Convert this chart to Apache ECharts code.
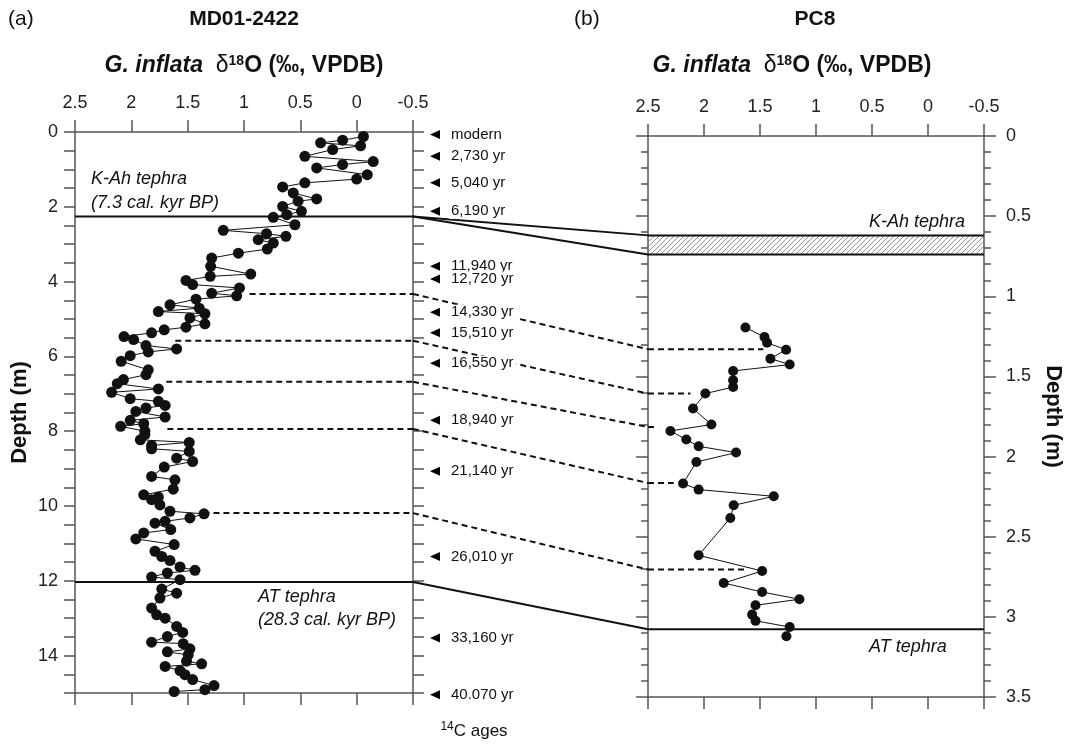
<!DOCTYPE html>
<html><head><meta charset="utf-8">
<script src="https://cdn.jsdelivr.net/npm/echarts@6/dist/echarts.min.js"></script>
<style>html,body{margin:0;padding:0;background:#fff}#c{width:1073px;height:745px}</style>
</head><body><div id="c"></div>
<script>
// ---- MD01-2422 (panel a) ----
const leftDepth = [0.12,0.22,0.29,0.37,0.47,0.65,0.79,0.87,0.96,1.14,1.26,1.36,1.47,1.63,1.79,1.85,1.99,2.12,2.21,2.28,2.48,2.63,2.72,2.79,2.88,2.97,3.13,3.24,3.37,3.59,3.80,3.86,3.97,4.08,4.17,4.31,4.38,4.47,4.62,4.71,4.80,4.86,4.97,5.13,5.22,5.29,5.37,5.47,5.55,5.71,5.80,5.88,5.98,6.13,6.36,6.49,6.62,6.73,6.87,6.96,7.13,7.20,7.31,7.38,7.47,7.62,7.71,7.80,7.87,8.00,8.09,8.23,8.30,8.38,8.47,8.54,8.72,8.81,8.96,9.21,9.30,9.55,9.70,9.76,9.83,9.97,10.14,10.21,10.32,10.41,10.46,10.63,10.72,10.88,11.03,11.21,11.35,11.46,11.63,11.72,11.79,11.90,11.97,12.22,12.33,12.46,12.73,12.91,13.00,13.22,13.38,13.49,13.64,13.68,13.82,13.90,13.98,14.15,14.22,14.29,14.40,14.51,14.64,14.80,14.91,14.96];
const leftD18O = [-0.06,0.125,0.32,-0.035,0.213,0.46,-0.147,0.125,0.355,-0.094,0.0,0.46,0.657,0.563,0.355,0.52,0.657,0.49,0.62,0.74,0.548,1.184,0.80,0.628,0.874,0.74,0.793,1.05,1.287,1.296,0.94,1.30,1.515,1.456,1.04,1.287,1.065,1.426,1.657,1.397,1.76,1.347,1.48,1.347,1.515,1.708,1.82,2.065,1.98,1.87,1.598,1.85,2.01,2.09,1.85,1.87,2.07,2.125,1.76,2.175,2.01,1.76,1.70,1.87,1.96,1.70,2.01,1.89,2.095,1.88,1.88,1.92,1.486,1.82,1.82,1.486,1.598,1.456,1.708,1.82,1.613,1.628,1.89,1.76,1.82,1.746,1.657,1.355,1.48,1.70,1.79,1.65,1.89,1.96,1.62,1.79,1.73,1.657,1.568,1.435,1.68,1.82,1.568,1.73,1.598,1.746,1.82,1.775,1.70,1.598,1.544,1.68,1.82,1.54,1.48,1.68,1.495,1.51,1.376,1.70,1.568,1.524,1.456,1.266,1.347,1.62];

// ---- PC8 (panel b) ----
const rightDepth = [1.195,1.254,1.29,1.333,1.389,1.426,1.466,1.524,1.566,1.607,1.70,1.80,1.84,1.894,1.936,1.975,2.034,2.168,2.206,2.248,2.304,2.383,2.616,2.714,2.789,2.845,2.89,2.928,2.986,3.025,3.063,3.121];
const rightD18O = [1.63,1.46,1.437,1.267,1.407,1.235,1.74,1.74,1.74,1.988,2.098,1.934,2.30,2.158,2.048,1.714,2.068,2.187,2.048,1.377,1.735,1.765,2.048,1.481,1.824,1.481,1.148,1.54,1.57,1.54,1.235,1.264];

// ---- 14C ages ----
const ageLabels = ['modern','2,730 yr','5,040 yr','6,190 yr','11,940 yr','12,720 yr','14,330 yr','15,510 yr','16,550 yr','18,940 yr','21,140 yr','26,010 yr','33,160 yr','40.070 yr'];
const ageDepth = [0.07,0.65,1.36,2.12,3.59,3.93,4.82,5.37,6.18,7.71,9.07,11.35,13.53,15.05];

// ---- tephra & tie points ----
const leftKAh = 2.26, leftAT = 12.03;
const rightKAhBand = [0.62, 0.74], rightAT = 3.077;
const leftTieDepth = [4.33, 5.58, 6.68, 7.94, 10.19];
const leftTieStart = [0.95, 1.61, 1.69, 1.68, 1.36];
const rightTieDepth = [1.33, 1.607, 1.815, 2.165, 2.705];
const rightTieEnd = [1.47, 2.12, 2.41, 2.27, 1.615];

const xTicks = [-0.5, 2.5];
const FONT = '"Liberation Sans", Arial, Helvetica, sans-serif';
const AX = '#555';

function hatch(){
  const c = document.createElement('canvas'); c.width = 5; c.height = 5;
  const g = c.getContext('2d'); g.strokeStyle = '#666'; g.lineWidth = 0.7;
  g.beginPath(); g.moveTo(0,5); g.lineTo(5,0); g.moveTo(-1,1); g.lineTo(1,-1); g.moveTo(4,6); g.lineTo(6,4); g.stroke();
  return c;
}
const hatchCanvas = hatch();

function xAx(grid, pos, labels){
  return {type:'value', gridIndex:grid, position:pos, min:xTicks[0], max:xTicks[1], interval:0.5, inverse:true,
    axisLine:{show:true, onZero:false, lineStyle:{color:AX, width:1.5}},
    axisTick:{show:true, inside:false, length:12, lineStyle:{color:AX, width:1.5}},
    axisLabel:{show:labels, margin:20, fontSize:18, color:'#222', fontFamily:FONT},
    splitLine:{show:false}};
}
function yAxLeftPanel(pos, labels){
  return {type:'value', gridIndex:0, position:pos, min:0, max:15, interval:0.5, inverse:true,
    axisLine:{show:true, onZero:false, lineStyle:{color:AX, width:1.5}},
    axisTick:{show:true, inside:false, length:11, lineStyle:{color:AX, width:1.5}},
    axisLabel:{show:labels, margin:17, fontSize:18, color:'#222', fontFamily:FONT,
      formatter: v => (Math.abs(v % 2) < 1e-9 ? String(v) : '')},
    splitLine:{show:false},
    name: labels ? 'Depth (m)' : '', nameLocation:'middle', nameGap:44, nameRotate:90,
    nameTextStyle:{fontSize:22, fontWeight:'bold', fontFamily:FONT, color:'#111'}};
}
function yAxRightPanel(pos, labels){
  return {type:'value', gridIndex:1, position:pos, min:0, max:3.5, interval:0.5, inverse:true,
    axisLine:{show:true, onZero:false, lineStyle:{color:AX, width:1.5}},
    axisTick:{show:true, inside:false, length:12, lineStyle:{color:AX, width:1.5}},
    minorTick:{show:true, splitNumber:5, length:7, lineStyle:{color:AX, width:1.5}},
    axisLabel:{show:labels, margin:22, fontSize:18, color:'#222', fontFamily:FONT},
    splitLine:{show:false},
    name: labels ? 'Depth (m)' : '', nameLocation:'middle', nameGap:58, nameRotate:-90,
    nameTextStyle:{fontSize:22, fontWeight:'bold', fontFamily:FONT, color:'#111'}};
}

const series = [];
series.push({type:'line', xAxisIndex:0, yAxisIndex:0, z:4,
  data: leftDepth.map((d,i)=>[leftD18O[i], d]),
  symbol:'circle', symbolSize:11, itemStyle:{color:'#111'}, lineStyle:{color:'#111', width:1}});
series.push({type:'line', xAxisIndex:2, yAxisIndex:2, z:4,
  data: rightDepth.map((d,i)=>[rightD18O[i], d]),
  symbol:'circle', symbolSize:10, itemStyle:{color:'#111'}, lineStyle:{color:'#111', width:1}});
[leftKAh, leftAT].forEach(d => series.push({type:'line', xAxisIndex:0, yAxisIndex:0, z:3, showSymbol:false, symbol:'none',
  data:[[2.5,d],[-0.5,d]], lineStyle:{color:'#111', width:2}}));
series.push({type:'line', xAxisIndex:2, yAxisIndex:2, z:3, symbol:'none', data:[[2.5,rightAT],[-0.5,rightAT]], lineStyle:{color:'#111', width:2}});
leftTieDepth.forEach((d,i) => series.push({type:'line', xAxisIndex:0, yAxisIndex:0, z:3, symbol:'none',
  data:[[leftTieStart[i], d],[-0.5, d]], lineStyle:{color:'#111', width:2, type:[6,4]}}));
rightTieDepth.forEach((d,i) => series.push({type:'line', xAxisIndex:2, yAxisIndex:2, z:3, symbol:'none',
  data:[[2.5, d],[rightTieEnd[i], d]], lineStyle:{color:'#111', width:2, type:[6,4]}}));
series.push({type:'custom', xAxisIndex:2, yAxisIndex:2, z:2,
  data:[[2.5, -0.5, rightKAhBand[0], rightKAhBand[1]]],
  encode:{x:[0,1], y:[2,3]},
  renderItem:(params, api) => {
    const a = api.coord([api.value(0), api.value(2)]);
    const b = api.coord([api.value(1), api.value(3)]);
    const x = Math.min(a[0], b[0]), w = Math.abs(b[0]-a[0]);
    return {type:'group', children:[
      {type:'rect', shape:{x:x, y:a[1], width:w, height:b[1]-a[1]}, style:{fill:{image:hatchCanvas, repeat:'repeat'}}},
      {type:'line', shape:{x1:x, y1:a[1], x2:x+w, y2:a[1]}, style:{stroke:'#111', lineWidth:2}},
      {type:'line', shape:{x1:x, y1:b[1], x2:x+w, y2:b[1]}, style:{stroke:'#111', lineWidth:2}}
    ]};
  }});
series.push({type:'scatter', xAxisIndex:4, yAxisIndex:4, z:6, clip:false,
  data: ageDepth.map(d => [0.5, d]),
  symbol:'path://M0,5 L10,0 L10,10 Z', symbolSize:[10,9], itemStyle:{color:'#000', opacity:1},
  label:{show:true, position:'right', distance:9, fontSize:15, fontFamily:FONT, color:'#111',
    backgroundColor:'#fff', padding:[0,3,0,2], formatter: p => ageLabels[p.dataIndex]}});

const option = {
  animation:false,
  backgroundColor:'#fff',
  grid:[
    {left:75, top:132, width:338, height:561},
    {left:648, top:136, width:336, height:561},
    {left:430, top:132, width:10, height:561}
  ],
  xAxis:[xAx(0,'top',true), xAx(0,'bottom',false), xAx(1,'top',true), xAx(1,'bottom',false),
    {type:'value', gridIndex:2, min:0, max:1, show:false}],
  yAxis:[yAxLeftPanel('left',true), yAxLeftPanel('right',false), yAxRightPanel('left',false), yAxRightPanel('right',true),
    {type:'value', gridIndex:2, min:0, max:15, inverse:true, show:false}],
  series: series
};

const chart = echarts.init(document.getElementById('c'), null, {renderer:'canvas'});
chart.setOption(option);

function txt(id, x, y, text, opts){
  return Object.assign({type:'text', id:id, x:x, y:y, z:10,
    style:Object.assign({text:text, fontFamily:FONT, fontSize:20, fill:'#111', align:'left', verticalAlign:'middle',
      textAlign:'left', textVerticalAlign:'middle'}, opts||{})});
}
const subRich = {
  i:{fontFamily:FONT, fontSize:23, fontWeight:'bold', fontStyle:'italic', fill:'#111'},
  d:{fontFamily:FONT, fontSize:23, fill:'#111'},
  s:{fontFamily:FONT, fontSize:14, fontWeight:'bold', fill:'#111', verticalAlign:'top', padding:[0,0,10,0]},
  b:{fontFamily:FONT, fontSize:23, fontWeight:'bold', fill:'#111'}
};
function sub(id, x, y){
  return {type:'text', id:id, x:x, y:y, z:10, style:{text:'{i|G. inflata}{b|  }{d|δ}{s|18}{b|O (‰, VPDB)}', rich:subRich,
    align:'center', verticalAlign:'middle', textAlign:'center', textVerticalAlign:'middle'}};
}
const P0 = (x,y) => chart.convertToPixel({xAxisIndex:0, yAxisIndex:0}, [x,y]);
const P1 = (x,y) => chart.convertToPixel({xAxisIndex:2, yAxisIndex:2}, [x,y]);
const gfx = [
  txt('a', 8, 19, '(a)', {fontSize:21}),
  txt('t1', 244, 19, 'MD01-2422', {fontSize:21, fontWeight:'bold', align:'center', textAlign:'center'}),
  sub('s1', 244, 66),
  txt('b', 574, 19, '(b)', {fontSize:21}),
  txt('t2', 815, 19, 'PC8', {fontSize:21, fontWeight:'bold', align:'center', textAlign:'center'}),
  sub('s2', 792, 66),
  txt('k1', 91, 179, 'K-Ah tephra', {fontSize:18, fontStyle:'italic'}),
  txt('k2', 91, 203, '(7.3 cal. kyr BP)', {fontSize:18, fontStyle:'italic'}),
  txt('at1', 258, 597, 'AT tephra', {fontSize:18, fontStyle:'italic'}),
  txt('at2', 258, 620, '(28.3 cal. kyr BP)', {fontSize:18, fontStyle:'italic'}),
  txt('k3', 869, 222, 'K-Ah tephra', {fontSize:18, fontStyle:'italic'}),
  txt('at3', 869, 647, 'AT tephra', {fontSize:18, fontStyle:'italic'}),
  {type:'text', id:'c14', x:474, y:731, z:10, style:{text:'{s|14}{n|C ages}', align:'center', verticalAlign:'middle',
    textAlign:'center', textVerticalAlign:'middle',
    rich:{s:{fontFamily:FONT, fontSize:12, fill:'#111', verticalAlign:'top', padding:[0,0,8,0]}, n:{fontFamily:FONT, fontSize:17, fill:'#111'}}}}
];
function conn(id, a, b, dashed){
  return {type:'line', id:id, z:1, shape:{x1:a[0], y1:a[1], x2:b[0], y2:b[1]},
    style:{stroke:'#111', lineWidth:2, lineDash: dashed ? [6,4] : null}};
}
gfx.push(conn('ck1', P0(-0.5, leftKAh), P1(2.5, rightKAhBand[0]), false));
gfx.push(conn('ck2', P0(-0.5, leftKAh), P1(2.5, rightKAhBand[1]), false));
gfx.push(conn('cat', P0(-0.5, leftAT), P1(2.5, rightAT), false));
leftTieDepth.forEach((d,i) => gfx.push(conn('ct'+i, P0(-0.5, d), P1(2.5, rightTieDepth[i]), true)));
chart.setOption({graphic: gfx});
</script></body></html>
